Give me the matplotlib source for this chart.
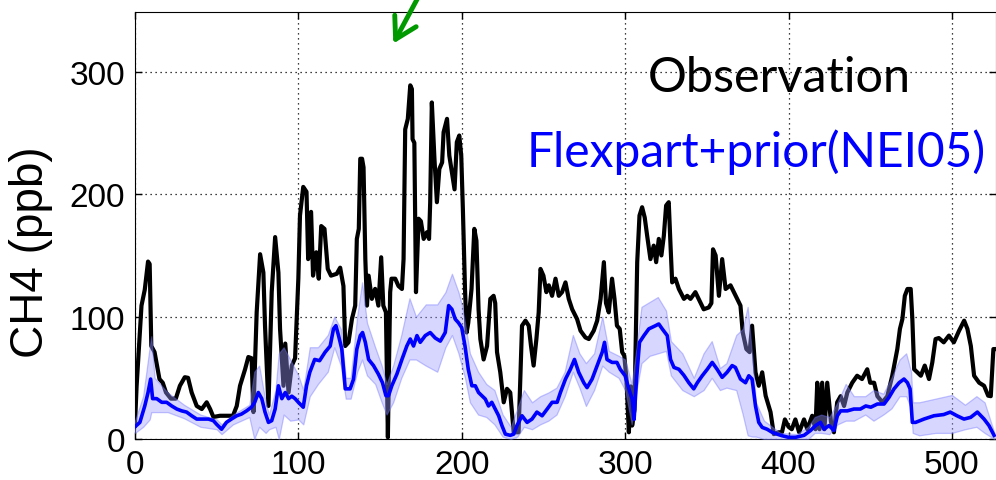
import numpy as np
import matplotlib
matplotlib.use('Agg')
import matplotlib.pyplot as plt

# observation (black)
obs_x = [0, 1, 4, 6, 8, 9, 10, 12, 15, 17, 19, 22, 25, 27.5, 30.5, 32.5, 34.7, 37.8, 40.9, 43.9,
         46, 48, 52, 56, 60, 62.3, 64.3, 67.4, 69.4, 71.4, 72.5, 74.5, 76.6, 78.6, 79.6, 81.7, 83.7, 85.8, 87.8, 88.8,
         90.9, 92, 94, 96, 98, 100, 101, 103, 105, 106, 107.8, 109, 111, 112.5, 114, 116, 118, 120, 123.5, 125.6,
         127.6, 128.7, 130.7, 132.8, 134.8, 135.8, 137, 137.9, 139, 139.9, 141, 142, 143, 145, 147, 149, 150.7, 152, 153.6, 154.8,
         156.2, 157, 159.3, 161.3, 163.4, 164.4, 165.4, 167, 168.5, 169.5, 169.9, 171, 172, 173.6, 175, 176.7, 178.7, 180, 180.7, 181.7,
         183.3, 184.8, 186.3, 188, 188.9, 191, 192.4, 194, 195.6, 197, 198.5, 199.7, 200.7, 202, 203, 204, 206, 207.7, 209, 210.3,
         211.4, 213.4, 215.5, 217.5, 219.5, 220.5, 221.6, 223.6, 225.7, 227.7, 229.7, 231.8, 234.8, 236.9, 239, 241, 242.4, 244, 245.7, 247.1,
         248.2, 250, 251.8, 253.3, 255.3, 257.4, 259.4, 261.4, 263.5, 265.5, 267.6, 270.6, 272.7, 275.7, 277.8, 280.8, 282.9, 285, 287, 288.3,
         290, 292, 293.5, 295, 296.7, 298.2, 299.5, 300.8, 302.3, 303.5, 304.3, 305.7, 307.4, 308.8, 310.4, 312, 313.5, 315.5, 317.5, 319,
         320.6, 322.2, 323.7, 325.1, 326.7, 327.8, 328.8, 330.8, 332.9, 336, 338, 340, 343, 345, 348.1, 351.2, 352.8, 353.8, 355.4, 357.4,
         359.4, 361.5, 364.5, 366.6, 368.6, 370.6, 372, 374.2, 376.2, 377.7, 379.8, 381.8, 383.9, 386, 389, 391, 394, 396, 397.8, 400,
         402, 404.2, 406.5, 409.5, 411.5, 414.5, 416.5, 417.6, 419, 420.6, 422, 423.7, 426, 427.8, 429.8, 431.9, 434, 436, 439, 442,
         445, 448.2, 450, 452.4, 454.4, 457.5, 460.5, 463.5, 466.6, 468.2, 469.7, 471.2, 472.8, 474.8, 475.8, 476.9, 481, 483.4, 486, 488,
         490, 492, 495, 498.2, 501.2, 504.4, 507.5, 509.5, 511.6, 513.6, 516.7, 519.7, 522.2, 523.8, 525.4, 526.8]
obs_y = [11, 43, 109, 122, 145, 143, 76, 71, 49, 46, 38, 33, 33, 43.5, 50.5, 50, 38, 27, 24.5, 30,
         24.5, 18, 19, 19, 19, 27, 43.5, 57, 67, 66, 22, 103.5, 151, 136, 92.6, 27, 120, 165, 136, 90,
         43.5, 78, 38, 60, 66, 131, 182.6, 206, 202, 147, 185.6, 133.5, 152.6, 131, 174, 171.7, 139, 133.5, 135, 140,
         125, 76, 79, 98, 109, 163.5, 171.7, 229, 229, 222, 147, 109, 133.5, 114.5, 122.7, 109, 148.5, 109, 103.5, 1.4,
         120, 131, 131, 125, 122.6, 147, 253, 261.6, 289, 286, 245, 242, 120, 180, 178, 163.5, 169, 163.5, 193.5, 275,
         229, 193.5, 220.7, 226, 250.7, 261.6, 231.6, 218, 204, 242.6, 248, 231.6, 188, 122.6, 87, 95, 122.6, 171.7, 162, 106,
         81.7, 65, 76, 114.5, 117, 111, 71, 54.5, 30, 41, 38, 5.5, 5.5, 92.6, 96.7, 92.6, 76, 60, 81.7, 103.5,
         139, 133.5, 120, 125.6, 117, 131, 117, 120, 128, 114.5, 106, 98, 88.5, 83, 81.7, 88.5, 96.7, 114.5, 144.5, 111,
         103.5, 131, 114.5, 92.6, 90, 71, 68, 49, 5.5, 43, 11, 24, 144.5, 182.6, 189.4, 181, 166, 147, 158, 144.5,
         163.5, 150, 166, 190.8, 193.5, 158, 128, 131, 122.6, 114.5, 117, 114.5, 120, 114.5, 106, 107.5, 111, 155, 150, 117,
         147, 122.6, 125.6, 120, 114.5, 109, 87, 73.5, 71, 92.6, 54.5, 43.5, 54.5, 35.4, 22, 4, 5.5, 5.5, 16, 10,
         8, 16, 5.5, 16, 8, 19, 8, 46, 8, 46, 8, 46, 14, 5.5, 30, 35, 27, 38, 46, 51.7,
         49, 57, 46, 46, 35, 30, 35, 51.7, 73.5, 90, 98, 117, 122.6, 122.6, 98, 57, 51.7, 60, 49, 62.5,
         81.7, 82.5, 79, 84.5, 79, 88.5, 96.7, 90, 76, 51.7, 46, 43.5, 35.4, 35, 73.5, 73.5]

# Flexpart+prior(NEI05) (blue mean)
mod_x = [0, 3, 6, 8, 9.6, 10.8, 13.3, 16.4, 19.4, 22.5, 25.6, 28.6, 31.6, 34.7, 37.8, 40.9, 45, 48, 50, 53,
         56, 59, 62.3, 65.2, 68.3, 71.3, 73.3, 75.5, 77.6, 79.6, 81.7, 83.7, 85.8, 87.8, 89.9, 92, 94, 96, 98, 100,
         103, 105, 107, 110, 113, 116.4, 119.5, 121.5, 123, 124.6, 126.6, 128.7, 131.7, 133.8, 135.8, 137.9, 139.3, 141, 143, 146,
         149, 151.5, 153.6, 155.2, 157.2, 160.3, 163.4, 166.4, 168.5, 170.5, 172.6, 174.6, 177.7, 180.7, 183.8, 186.9, 189.9, 192, 194, 196,
         198, 200, 202, 204, 206.2, 208.3, 210.3, 212.3, 214.4, 216.4, 218.4, 220.5, 222.6, 224.6, 226.7, 229.7, 231.8, 233.8, 236.9, 240,
         243, 246, 249.2, 252.3, 255.3, 258.4, 260.4, 263.5, 266.5, 269, 271.6, 274.7, 276.7, 279.8, 282.9, 286, 287.4, 288.9, 292, 295,
         297, 300, 302.3, 304.3, 305.5, 307, 308.8, 311.5, 314.5, 318.6, 320.6, 322.7, 325.8, 327.8, 329.9, 332.9, 336, 339, 342, 344.2,
         347.2, 350.3, 353.3, 356.3, 359.4, 362.4, 365.5, 367.5, 370.6, 373.7, 375.7, 377.7, 379.8, 381.8, 383.9, 386.9, 390, 393, 396, 400,
         404.3, 409.5, 413.5, 416.6, 419.6, 421.7, 424.8, 427.8, 429.9, 431.9, 436, 440, 444, 447.3, 450.4, 454.4, 458.5, 461.5, 464.6, 467.7,
         470.7, 472.8, 474.4, 475.8, 477.8, 482.9, 489, 495, 499, 503.1, 507.4, 511.5, 515.6, 519.7, 522.7, 525.8]
mod_y = [10, 13.6, 27, 38, 49, 33, 33, 30, 30, 27, 24.5, 23, 22, 19, 16.3, 16.3, 16.3, 15, 12, 8,
         13.6, 16.3, 19, 20.4, 23, 26, 30, 38, 33, 22, 13.6, 15, 24.5, 43.5, 33, 38, 33, 35, 33, 30,
         26, 43.5, 54.5, 65, 64, 71, 76, 90, 92.6, 84.5, 73.5, 41, 41, 49, 73.5, 84.5, 87, 79, 65, 60,
         53, 46, 35.4, 35.4, 43.5, 53, 65, 76, 81.7, 76, 84.5, 79, 84.5, 87, 82.5, 80, 87, 109, 106, 98,
         95, 91, 76, 57, 43.5, 43.5, 38, 35.4, 32.7, 27, 30, 24.5, 19, 11, 4, 3, 4, 11, 19, 13.6,
         16.3, 22, 19, 24.5, 30, 30, 38, 49, 57, 65, 54.5, 46, 42, 49, 60, 71, 79, 65, 62.6, 62.6,
         57, 51.7, 41, 32.7, 16, 49, 79, 84.5, 90, 92.6, 94, 90, 84.5, 65, 58.5, 57, 52, 46, 41, 46,
         51.7, 57, 62.6, 57, 50.4, 54.5, 60, 58.5, 49, 46, 51.7, 49, 27, 13.6, 9.5, 8, 5.5, 4, 2.7, 1.4,
         1.4, 3, 7, 11, 13.6, 8, 11, 7, 19, 23, 23, 24.5, 24.5, 27, 26, 28.6, 28.6, 34, 41, 46,
         49, 46, 41, 13.6, 13.6, 16.3, 19, 20, 22, 19, 16.3, 17.7, 22, 16.3, 11, 3]

# spread of the model (shaded band)
band_x = [0, 5, 9, 10, 12, 20, 30, 40, 50, 53, 60, 70, 73, 76, 80, 82, 86, 88, 91, 95,
          100, 103, 107, 112, 118, 122, 126, 129, 132, 136, 139, 142, 147, 151, 154, 158, 163, 168, 172, 178,
          185, 190, 194, 198, 200, 202, 205, 210, 215, 220, 225, 230, 234, 238, 243, 248, 253, 258, 263, 268,
          272, 276, 281, 286, 290, 296, 300, 304, 307, 310, 315, 320, 325, 328, 335, 342, 348, 353, 358, 362,
          368, 372, 375, 378, 380, 385, 395, 405, 412, 416, 420, 425, 430, 435, 440, 447, 452, 458, 463, 468,
          472, 475, 476, 480, 490, 500, 508, 515, 520, 526]
band_lo = [5, 10, 16, 22, 22, 22, 17, 10, 8, 4, 12, 18, 0, 10, 5, 8, 10, 0, 20, 15,
           16, 12, 35, 45, 55, 75, 60, 33, 33, 55, 65, 52, 45, 30, 20, 30, 50, 65, 65, 60,
           55, 75, 85, 70, 60, 50, 30, 20, 18, 12, 2, 0, 2, 10, 8, 12, 15, 20, 35, 55,
           42, 27, 40, 60, 55, 50, 40, 12, 40, 62, 68, 70, 72, 52, 40, 35, 40, 50, 40, 42,
           40, 20, 3, 2, 2, 0, 0, 0, 0, 5, 5, 4, 12, 15, 15, 20, 15, 20, 25, 35,
           35, 25, 5, 3, 5, 5, 8, 10, 5, 0]
band_hi = [15, 35, 75, 84, 50, 38, 28, 20, 16, 12, 20, 28, 55, 60, 30, 20, 40, 70, 75, 65,
           52, 40, 75, 75, 85, 100, 90, 50, 50, 100, 128, 95, 75, 60, 45, 60, 85, 115, 100, 110,
           110, 120, 135, 120, 110, 95, 70, 55, 45, 40, 20, 10, 25, 40, 30, 35, 38, 42, 55, 85,
           70, 62, 70, 100, 72, 68, 65, 45, 75, 108, 112, 116, 105, 80, 70, 50, 70, 80, 58, 62,
           85, 90, 108, 65, 30, 15, 5, 4, 10, 18, 20, 18, 30, 45, 35, 35, 40, 37, 50, 65,
           70, 55, 30, 30, 33, 36, 28, 35, 30, 5]

xticks = [0, 100, 200, 300, 400, 500]
yticks = [0, 100, 200, 300]

fig = plt.figure(figsize=(9.96, 4.81), dpi=100)
ax = fig.add_axes([0.1355, 0.0852, 0.8645, 0.888])

ax.plot(obs_x, obs_y, color='black', lw=3.0, zorder=3)
ax.fill_between(band_x, band_lo, band_hi, facecolor='#9999ff', alpha=0.4,
                edgecolor='#6f6fff', lw=0.9, zorder=4)
ax.plot(mod_x, mod_y, color='#0000ff', lw=2.6, zorder=5)

ax.set_xlim(0, 527)
ax.set_ylim(0, 349)
ax.set_xticks(xticks)
ax.set_yticks(yticks)
ax.grid(True, color='black', linestyle=(0, (1, 3)), lw=0.9)
ax.tick_params(direction='in', length=5, width=1, top=True, right=True,
               labelsize=24, pad=7)
for lab in ax.get_xticklabels() + ax.get_yticklabels():
    lab.set_family('Liberation Sans')
for s in ax.spines.values():
    s.set_linewidth(0.8)

ax.set_ylabel('CH4 (ppb)', fontsize=33, family='Liberation Sans')
ax.yaxis.set_label_coords(-0.095, 0.44)

ax.text(314, 284, 'Observation', fontsize=35, family='Lato', color='black', va='baseline')
ax.text(240, 223, 'Flexpart+prior(NEI05)', fontsize=34.5, family='Lato', color='#0000ff', va='baseline')

# green arrow coming in from above
ax.annotate('', xy=(392, 434), xytext=(421, 488), xycoords='figure pixels',
            textcoords='figure pixels', annotation_clip=False,
            arrowprops=dict(arrowstyle='->,head_length=0.6,head_width=0.35',
                            color='#009900', lw=3.5, mutation_scale=25))

fig.savefig('out.png', dpi=100)
